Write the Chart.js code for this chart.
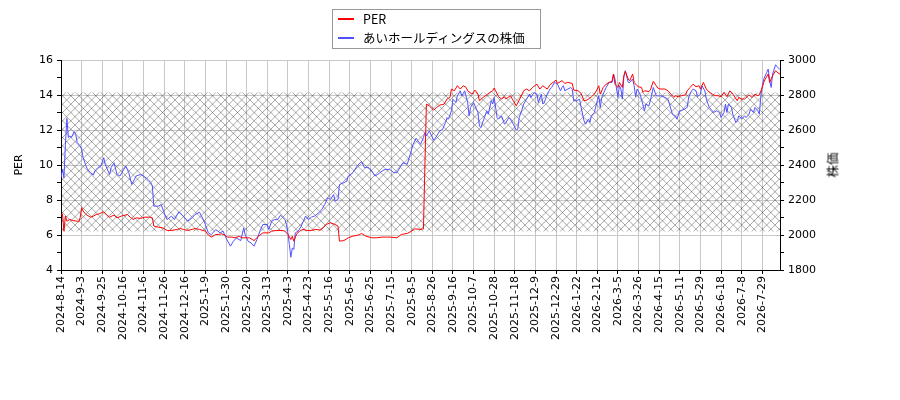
<!DOCTYPE html>
<html>
<head>
<meta charset="utf-8">
<script src="https://cdn.jsdelivr.net/npm/chart.js@4.4.1/dist/chart.umd.min.js"></script>
<style>
  body { margin: 0; background: #fff; }
  #wrap { position: relative; width: 900px; height: 400px; }
  #legend {
    position: absolute; left: 332px; top: 9px; width: 209px; height: 40px;
    box-sizing: border-box; border: 1px solid #999; background: rgba(255,255,255,0.85);
    font-family: "Noto Sans CJK JP", sans-serif; font-size: 12.5px; color: #000;
  }
  #legend .row { position: absolute; left: 0; height: 18px; line-height: 18px; white-space: nowrap; }
  #legend .swatch { position: absolute; left: 5px; top: 8px; width: 16px; height: 1.5px; }
  #legend .txt { position: absolute; left: 30px; top: 0; }
  #ytitle2 {
    position: absolute; left: 832px; top: 165px; transform: translate(-50%, -50%) rotate(-90deg);
    font-family: "Noto Sans CJK JP", sans-serif; font-size: 12.5px; color: #000; white-space: nowrap;
  }
</style>
</head>
<body>
<div id="wrap">
  <canvas id="chart" width="900" height="400"></canvas>
  <div id="legend">
    <div class="row" style="top:0px"><span class="swatch" style="background:#ff0000"></span><span class="txt">PER</span></div>
    <div class="row" style="top:19px"><span class="swatch" style="background:#5050ff"></span><span class="txt">あいホールディングスの株価</span></div>
  </div>
  <div id="ytitle2">株価</div>
</div>
<script>
// x axis labels, one every 14 trading days
const tickLabels = [
  "2024-8-14", "2024-9-3", "2024-9-25", "2024-10-16", "2024-11-6", "2024-11-26", "2024-12-16",
  "2025-1-9", "2025-1-30", "2025-2-20", "2025-3-13", "2025-4-3", "2025-4-23", "2025-5-16",
  "2025-6-5", "2025-6-25", "2025-7-15", "2025-8-5", "2025-8-26", "2025-9-16", "2025-10-7",
  "2025-10-28", "2025-11-18", "2025-12-9", "2025-12-29", "2026-1-22", "2026-2-12", "2026-3-5",
  "2026-3-26", "2026-4-15", "2026-5-11", "2026-5-29", "2026-6-18", "2026-7-8", "2026-7-29"
];
const tickEvery = 14;

// PER (left axis), trading day index -> value
const perDay = [
  0,1,2,3,4,6,8,11,12,13,
  14,15,17,20,22,24,26,29,31,33,
  36,38,41,45,47,49,51,54,57,60,
  62,63,66,69,72,75,79,81,83,86,
  89,91,94,98,100,102,105,107,109,111,
  113,116,118,121,123,125,128,131,134,137,
  141,143,146,150,152,154,156,157,158,160,
  162,164,167,170,173,176,178,180,183,186,
  188,189,192,195,198,202,204,207,211,214,
  218,221,224,228,231,235,238,240,244,246,
  247,248,250,253,255,257,260,262,264,265,
  267,269,271,273,275,276,279,281,283,284,
  287,289,291,293,294,295,297,299,301,302,
  305,307,309,311,314,316,318,320,323,325,
  327,330,332,334,336,337,340,342,344,347,
  348,351,353,355,357,360,362,364,365,366,
  368,370,372,374,375,376,378,379,381,382,
  383,385,386,388,389,391,392,394,395,396,
  399,400,402,404,405,407,410,412,414,416,
  417,419,421,424,425,427,429,431,433,434,
  436,438,439,442,444,446,448,450,452,454,
  456,459,460,462,464,467,469,471,473,474,
  476,477,478,480,481,483,485,486,488
];
const perValue = [
  7.17,7.21,6.22,7.08,6.79,6.89,6.83,6.79,6.75,6.98,
  7.56,7.37,7.17,7.02,7.08,7.17,7.21,7.33,7.14,7.02,
  7.14,6.98,7.08,7.17,7.02,6.89,6.98,6.95,7.02,7.02,
  6.98,6.51,6.45,6.41,6.26,6.26,6.32,6.37,6.32,6.26,
  6.32,6.37,6.32,6.22,6.0,5.88,6.03,6.03,6.07,6.0,
  5.88,5.88,5.84,5.92,5.84,5.84,5.84,5.68,5.93,6.12,
  6.12,6.22,6.26,6.26,6.22,6.03,5.74,5.93,5.65,6.07,
  6.22,6.32,6.26,6.26,6.32,6.28,6.41,6.6,6.7,6.6,
  6.51,5.65,5.68,5.84,5.93,6.0,6.09,5.93,5.84,5.84,
  5.88,5.88,5.88,5.84,6.03,6.09,6.22,6.35,6.32,6.35,
  10.0,13.48,13.38,13.13,13.29,13.42,13.48,13.77,13.86,14.34,
  14.24,14.53,14.34,14.53,14.43,14.24,14.05,14.28,14.05,13.67,
  13.9,14.01,14.15,14.24,14.4,14.24,13.9,13.77,13.9,13.77,
  13.96,13.67,13.38,13.71,14.24,14.34,14.24,14.43,14.62,14.34,
  14.53,14.34,14.59,14.72,14.85,14.66,14.82,14.66,14.72,14.66,
  14.28,14.24,14.09,13.67,13.71,13.9,14.05,14.34,14.53,14.05,
  14.43,14.62,14.72,14.78,15.2,14.62,14.43,14.72,14.43,15.1,
  15.35,14.91,14.82,15.2,14.72,14.53,14.47,14.43,14.15,14.24,
  14.2,14.28,14.78,14.53,14.4,14.34,14.34,14.24,14.05,13.86,
  13.96,13.9,13.96,14.01,14.24,14.43,14.62,14.47,14.53,14.34,
  14.72,14.34,14.24,14.05,13.96,13.96,13.9,14.15,13.9,14.24,
  14.05,13.67,13.86,13.77,13.77,14.01,13.86,14.05,13.96,14.01,
  14.43,14.72,14.91,15.2,14.72,15.1,15.39,15.3,15.2
];

// stock price (right axis), trading day index -> yen
const priceDay = [
  0,1,2,3,4,5,6,7,9,10,
  11,13,14,15,17,18,20,22,23,25,
  27,29,30,33,34,36,38,40,42,44,
  46,48,51,54,56,59,61,62,63,66,
  68,70,72,75,77,80,82,86,89,91,
  94,96,98,100,102,105,108,110,112,115,
  117,119,122,124,125,127,129,131,133,135,
  137,140,141,143,145,147,149,152,153,154,
  155,156,157,158,159,161,163,166,168,170,
  172,175,177,179,181,183,185,186,188,189,
  192,194,195,197,198,201,203,204,206,209,
  211,213,215,218,220,223,226,228,230,232,
  235,237,239,241,244,246,247,248,250,251,
  253,255,257,259,261,262,263,265,266,268,
  269,271,272,273,274,276,277,278,280,281,
  283,284,285,287,289,290,292,293,294,296,
  297,299,301,302,304,305,307,309,310,311,
  313,314,316,318,319,321,323,324,326,327,
  328,330,332,333,335,337,339,340,341,342,
  344,346,347,348,350,352,353,355,356,358,
  359,360,362,364,365,366,367,369,370,372,
  374,375,376,378,379,380,381,382,383,385,
  386,388,389,390,391,393,394,396,397,399,
  400,402,404,405,407,410,412,413,415,417,
  418,420,421,423,425,426,428,429,431,432,
  434,435,437,438,440,442,443,445,447,448,
  450,451,452,453,455,456,458,459,460,462,
  464,465,467,468,470,471,473,474,475,476,
  477,479,480,481,482,483,485,486,488
];
const priceValue = [
  2327,2375,2327,2518,2666,2557,2566,2557,2591,2576,
  2528,2509,2490,2442,2394,2375,2356,2343,2366,2385,
  2394,2442,2404,2346,2385,2413,2346,2337,2366,2394,
  2356,2289,2337,2346,2337,2318,2299,2280,2165,2165,
  2174,2127,2088,2108,2088,2132,2117,2079,2098,2117,
  2130,2098,2060,2012,2002,2031,2012,2022,1983,1936,
  1964,1983,1968,2041,2002,1964,1955,1936,1974,2022,
  2060,2060,2031,2079,2088,2088,2113,2088,2060,2012,
  1945,1873,1926,1917,2012,2022,2050,2108,2088,2102,
  2108,2127,2146,2174,2213,2203,2232,2194,2203,2289,
  2299,2308,2337,2346,2356,2394,2413,2419,2385,2385,
  2366,2337,2346,2366,2375,2375,2356,2356,2385,2413,
  2404,2461,2518,2553,2518,2557,2585,2566,2595,2576,
  2541,2566,2595,2604,2643,2671,2662,2710,2776,2757,
  2795,2824,2795,2809,2824,2757,2681,2729,2757,2738,
  2700,2623,2614,2662,2710,2690,2767,2748,2786,2671,
  2662,2681,2633,2643,2671,2662,2633,2599,2604,2671,
  2719,2748,2776,2805,2786,2814,2805,2757,2805,2748,
  2757,2805,2834,2843,2872,2862,2824,2843,2853,2824,
  2834,2843,2834,2767,2767,2776,2729,2652,2633,2662,
  2643,2681,2700,2767,2796,2729,2786,2824,2843,2872,
  2872,2920,2891,2786,2853,2834,2776,2901,2939,2872,
  2872,2891,2853,2790,2834,2805,2776,2710,2748,2738,
  2767,2843,2795,2795,2795,2786,2776,2748,2690,2681,
  2662,2710,2710,2719,2729,2786,2824,2834,2824,2790,
  2805,2853,2824,2776,2729,2710,2700,2710,2700,2671,
  2700,2748,2700,2748,2729,2690,2643,2652,2681,2662,
  2681,2671,2690,2719,2700,2729,2710,2690,2795,2853,
  2891,2929,2948,2882,2843,2920,2973,2962,2945
];

// hatched PER band [low, high]
const bandRange = [6.2, 14.15];

const firstDay = perDay[0];
const lastDay = perDay[perDay.length - 1];

function makeHatch() {
  const size = 25;
  const c = document.createElement("canvas");
  c.width = size;
  c.height = size;
  const g = c.getContext("2d");
  g.strokeStyle = "rgba(0,0,0,0.42)";
  g.lineWidth = 0.8;
  for (let k = -3; k <= 3; k++) {
    const o = (k * size) / 3;
    g.beginPath();
    g.moveTo(o, 0);
    g.lineTo(o + size, size);
    g.stroke();
    g.beginPath();
    g.moveTo(o, size);
    g.lineTo(o + size, 0);
    g.stroke();
  }
  return g.createPattern(c, "repeat");
}

const tickFont = { family: "DejaVu Sans", size: 11 };
const gridGray = "#c8c8c8";

const ctx = document.getElementById("chart").getContext("2d");
new Chart(ctx, {
  type: "line",
  data: {
    datasets: [
      {
        label: "PER",
        data: perDay.map((d, i) => ({ x: d, y: perValue[i] })),
        borderColor: "#ff0000",
        borderWidth: 1,
        pointRadius: 0,
        yAxisID: "y",
        order: 0,
      },
      {
        label: "あいホールディングスの株価",
        data: priceDay.map((d, i) => ({ x: d, y: priceValue[i] })),
        borderColor: "#5050ff",
        borderWidth: 1,
        pointRadius: 0,
        yAxisID: "y2",
        order: 1,
      },
      {
        label: "band",
        data: [
          { x: firstDay, y: bandRange[1] },
          { x: lastDay, y: bandRange[1] },
        ],
        fill: { value: bandRange[0] },
        backgroundColor: makeHatch(),
        borderWidth: 0,
        pointRadius: 0,
        yAxisID: "y",
        order: 2,
      },
    ],
  },
  options: {
    responsive: false,
    animation: false,
    layout: { padding: { top: 60 } },
    plugins: {
      legend: { display: false },
      tooltip: { enabled: false },
    },
    scales: {
      x: {
        type: "linear",
        min: firstDay,
        max: lastDay,
        afterFit: (s) => { s.height = 130; },
        grid: { color: gridGray, tickColor: "#000", tickLength: 4 },
        border: { color: "#000" },
        ticks: {
          stepSize: tickEvery,
          autoSkip: false,
          includeBounds: false,
          maxRotation: 90,
          minRotation: 90,
          padding: 2,
          color: "#000",
          font: tickFont,
          callback: (v) => tickLabels[v / tickEvery] ?? "",
        },
      },
      y: {
        position: "left",
        min: 4,
        max: 16,
        afterFit: (s) => { s.width = 61; },
        grid: {
          color: (c) => (c.tick && c.tick.value % 2 === 0 ? gridGray : "rgba(0,0,0,0)"),
          tickColor: "#000",
          tickLength: 4,
        },
        border: { color: "#000" },
        ticks: {
          stepSize: 1,
          autoSkip: false,
          padding: 4,
          color: "#000",
          font: tickFont,
          callback: (v) => (v % 2 === 0 ? String(v) : ""),
        },
        title: {
          display: true,
          text: "PER",
          color: "#000",
          font: tickFont,
          padding: { top: 13, bottom: 0 },
        },
      },
      y2: {
        position: "right",
        min: 1800,
        max: 3000,
        afterFit: (s) => { s.width = 120; },
        grid: { drawOnChartArea: false, tickColor: "#000", tickLength: 4 },
        border: { color: "#000" },
        ticks: {
          stepSize: 100,
          autoSkip: false,
          padding: 4,
          color: "#000",
          font: tickFont,
          callback: (v) => (v % 200 === 0 ? String(v) : ""),
        },
      },
    },
  },
});
</script>
</body>
</html>
